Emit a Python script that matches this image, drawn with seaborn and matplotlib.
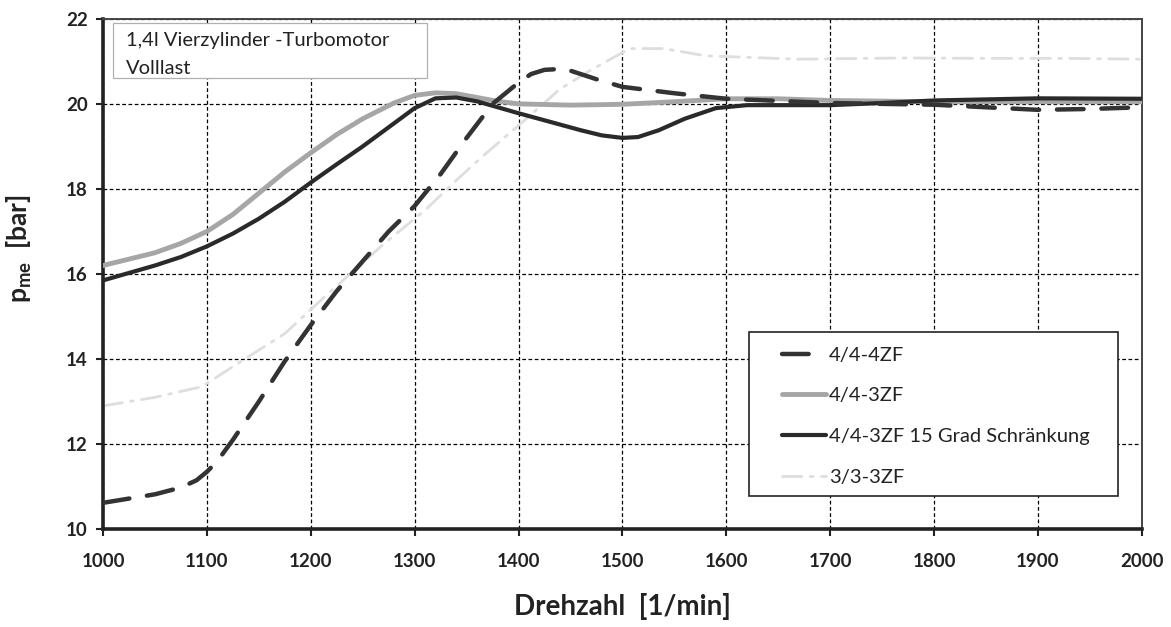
import numpy as np
import pandas as pd
import matplotlib
matplotlib.use("Agg")
import matplotlib.pyplot as plt
from matplotlib.patches import Rectangle
import seaborn as sns

# ---- data ----
x_4zf = [1000, 1025, 1050, 1075, 1090, 1100, 1110, 1125, 1150, 1175, 1200, 1225, 1250, 1275, 1300, 1325,
         1350, 1375, 1400, 1412, 1425, 1440, 1450, 1475, 1500, 1550, 1600, 1700, 1800, 1850, 1900, 1950, 2000]
y_4zf = [10.62, 10.72, 10.82, 10.98, 11.15, 11.35, 11.6, 12.1, 13.0, 13.95, 14.8, 15.6, 16.3, 17.0, 17.6, 18.35,
         19.2, 20.0, 20.5, 20.7, 20.8, 20.82, 20.78, 20.58, 20.4, 20.25, 20.12, 20.02, 19.98, 19.92, 19.86, 19.88, 19.92]

x_3zf = [1000, 1050, 1075, 1100, 1125, 1150, 1175, 1200, 1225, 1250, 1280, 1300, 1320, 1340, 1360,
         1380, 1400, 1450, 1500, 1550, 1600, 1650, 1700, 1800, 1900, 2000]
y_3zf = [16.2, 16.5, 16.72, 17.0, 17.4, 17.9, 18.4, 18.85, 19.28, 19.65, 20.02, 20.2, 20.26, 20.24, 20.15,
         20.06, 20.0, 19.97, 19.99, 20.05, 20.12, 20.12, 20.08, 20.05, 20.05, 20.05]

x_3zf15 = [1000, 1050, 1075, 1100, 1125, 1150, 1175, 1200, 1225, 1250, 1275, 1300, 1320, 1340, 1360,
           1380, 1400, 1430, 1460, 1480, 1500, 1515, 1535, 1560, 1590, 1620, 1650, 1700, 1750, 1800, 1900, 2000]
y_3zf15 = [15.85, 16.2, 16.4, 16.65, 16.95, 17.3, 17.7, 18.15, 18.58, 19.0, 19.45, 19.9, 20.13, 20.15, 20.06,
           19.92, 19.78, 19.58, 19.38, 19.26, 19.2, 19.22, 19.38, 19.65, 19.9, 19.97, 19.97, 19.97, 20.02, 20.08, 20.13, 20.12]

x_33 = [1000, 1050, 1095, 1130, 1175, 1215, 1270, 1310, 1340, 1367, 1408, 1440, 1470, 1507,
        1540, 1580, 1670, 1770, 1850, 1925, 2000]
y_33 = [12.9, 13.1, 13.35, 13.9, 14.6, 15.5, 16.7, 17.5, 18.2, 18.8, 19.66, 20.35, 20.8, 21.3,
        21.3, 21.13, 21.05, 21.08, 21.07, 21.07, 21.05]

labels = ["4/4-4ZF", "4/4-3ZF", "4/4-3ZF 15 Grad Schränkung", "3/3-3ZF"]
x_ticks = [1000, 1100, 1200, 1300, 1400, 1500, 1600, 1700, 1800, 1900, 2000]
y_ticks = [10, 12, 14, 16, 18, 20, 22]
box_lines = ["1,4l Vierzylinder -Turbomotor", "Volllast"]

sns.set_theme(style="white")
plt.rcParams['font.family'] = ['Lato', 'DejaVu Sans']
plt.rcParams['mathtext.fontset'] = 'custom'
plt.rcParams['mathtext.rm'] = 'Lato:bold'
plt.rcParams['mathtext.bf'] = 'Lato:bold'
plt.rcParams['mathtext.it'] = 'Lato:bold'

fig = plt.figure(figsize=(11.71, 6.27), dpi=100)
ax = fig.add_axes([0.088, 0.156, 0.887, 0.814])

sns.lineplot(x=x_33, y=y_33, ax=ax, color="#dedede", linewidth=2.0, label=labels[3],
             sort=False, zorder=2)
sns.lineplot(x=x_3zf, y=y_3zf, ax=ax, color="#a6a6a6", linewidth=3.5, label=labels[1],
             sort=False, zorder=3)
sns.lineplot(x=x_3zf15, y=y_3zf15, ax=ax, color="#2a2a2a", linewidth=3.0, label=labels[2],
             sort=False, zorder=4)
sns.lineplot(x=x_4zf, y=y_4zf, ax=ax, color="#333333", linewidth=3.2, label=labels[0],
             sort=False, zorder=5)

lines = ax.get_lines()
lines[0].set_dashes([7, 3, 1, 3])
lines[3].set_dashes([6, 4])
for ln in lines:
    ln.set_dash_capstyle("round")
    ln.set_solid_capstyle("round")
    ln.set_solid_joinstyle("round")

ax.set_xlim(1000, 2000)
ax.set_ylim(10, 22)
ax.set_xticks(x_ticks)
ax.set_yticks(y_ticks)
ax.grid(True, color="black", linestyle=(0, (3, 2)), linewidth=0.9)
ax.set_axisbelow(True)

for s in ["left", "bottom"]:
    ax.spines[s].set_color("#222222")
    ax.spines[s].set_linewidth(2.6)
for s in ["top", "right"]:
    ax.spines[s].set_color("#444444")
    ax.spines[s].set_linewidth(1.4)

ax.tick_params(axis="both", which="major", direction="out", length=5, width=1.5,
               color="#222222", labelsize=13.5, labelcolor="#222222", pad=6,
               bottom=True, left=True)
for t in ax.get_xticklabels() + ax.get_yticklabels():
    t.set_fontweight("bold")
ax.tick_params(axis="x", pad=12)

ax.set_xlabel("Drehzahl  [1/min]", fontsize=20, fontweight="bold", color="#222222", labelpad=17)
ax.set_ylabel(r"$\mathbf{p_{me}}$  [bar]", fontsize=19, fontweight="bold", color="#222222")
ax.yaxis.set_label_coords(-0.066, 0.55)

# text box top-left
ax.add_patch(Rectangle((0.0096, 0.884), 0.302, 0.108, transform=ax.transAxes, facecolor="white",
                       edgecolor="#b0b0b0", linewidth=0.9, zorder=6))
ax.text(0.022, 0.957, box_lines[0], transform=ax.transAxes, ha="left", va="center",
        fontsize=14.5, color="#222222", zorder=7)
ax.text(0.022, 0.902, box_lines[1], transform=ax.transAxes, ha="left", va="center",
        fontsize=14.5, color="#222222", zorder=7)

# legend frame + legend in the requested order
ax.add_patch(Rectangle((0.622, 0.065), 0.355, 0.321, transform=ax.transAxes, facecolor="white",
                       edgecolor="#222222", linewidth=1.2, zorder=6))
handles, lbls = ax.get_legend_handles_labels()
order = [lbls.index(l) for l in labels]
leg = ax.legend([handles[i] for i in order], [lbls[i] for i in order],
                loc="upper left", bbox_to_anchor=(0.6535, 0.358), frameon=False,
                fontsize=14.5, labelspacing=1.17, handlelength=2.2,
                handletextpad=0.15, borderpad=0, borderaxespad=0)
leg.set_zorder(8)
for t in leg.get_texts():
    t.set_color("#222222")

fig.savefig("out.png", dpi=100, facecolor="white")
